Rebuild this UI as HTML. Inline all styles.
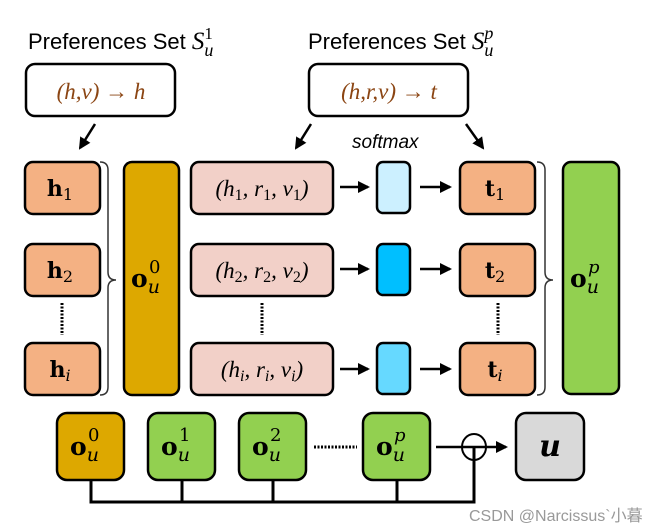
<!DOCTYPE html>
<html><head><meta charset="utf-8"><style>
html,body{margin:0;padding:0;background:#fff;}
svg{display:block;}
.m{font-family:"DejaVu Serif","Liberation Serif",serif;}
</style></head><body>
<svg width="653" height="531" viewBox="0 0 653 531" xmlns="http://www.w3.org/2000/svg">
<defs>
<marker id="b" markerWidth="12" markerHeight="12" refX="10" refY="6" orient="auto" markerUnits="userSpaceOnUse"><path d="M0,0 L12,6 L0,12 z" fill="#000"/></marker>
</defs>
<g font-family="Liberation Sans, sans-serif" font-size="22" fill="#000">
<text x="28" y="49">Preferences Set <tspan font-family="Liberation Serif,serif" font-style="italic" font-size="25">S</tspan><tspan font-family="Liberation Serif,serif" font-style="italic" font-size="18" dy="7">u</tspan><tspan font-family="Liberation Serif,serif" font-size="17" dx="-9" dy="-17">1</tspan></text>
<text x="308" y="49">Preferences Set <tspan font-family="Liberation Serif,serif" font-style="italic" font-size="25">S</tspan><tspan font-family="Liberation Serif,serif" font-style="italic" font-size="18" dy="7">u</tspan><tspan font-family="Liberation Serif,serif" font-style="italic" font-size="18" dx="-9" dy="-17">p</tspan></text>
</g>
<rect x="26" y="64" width="149" height="52" rx="9" fill="#fff" stroke="#000" stroke-width="2.5"/>
<text x="101" y="99" text-anchor="middle" font-family="Liberation Serif,serif" font-style="italic" font-size="23" fill="#8B4513">(h,v) → h</text>
<rect x="309" y="64" width="159" height="52" rx="9" fill="#fff" stroke="#000" stroke-width="2.5"/>
<text x="389" y="99" text-anchor="middle" font-family="Liberation Serif,serif" font-style="italic" font-size="23" fill="#8B4513">(h,r,v) → t</text>
<g stroke="#000" stroke-width="2.5">
<line x1="95" y1="124" x2="80" y2="148" marker-end="url(#b)"/>
<line x1="311" y1="124" x2="296" y2="148" marker-end="url(#b)"/>
<line x1="466" y1="124" x2="483" y2="148" marker-end="url(#b)"/>
</g>
<text x="352" y="148" font-family="Liberation Sans,sans-serif" font-style="italic" font-size="19">softmax</text>
<g stroke="#000" stroke-width="2.5" fill="#F4B183">
<rect x="25" y="162" width="75" height="52" rx="8"/>
<rect x="25" y="244" width="75" height="52" rx="8"/>
<rect x="25" y="343" width="75" height="52" rx="8"/>
<rect x="460" y="162" width="75" height="52" rx="8"/>
<rect x="460" y="244" width="75" height="52" rx="8"/>
<rect x="460" y="343" width="75" height="52" rx="8"/>
</g>
<g class="m" font-size="22" font-weight="bold" text-anchor="middle">
<text x="60" y="196">h<tspan font-size="16" font-weight="normal" dy="4">1</tspan></text>
<text x="60" y="278">h<tspan font-size="16" font-weight="normal" dy="4">2</tspan></text>
<text x="60" y="377">h<tspan font-size="16" font-weight="normal" font-style="italic" dy="4">i</tspan></text>
<text x="495" y="196">t<tspan font-size="16" font-weight="normal" dy="4">1</tspan></text>
<text x="495" y="278">t<tspan font-size="16" font-weight="normal" dy="4">2</tspan></text>
<text x="495" y="377">t<tspan font-size="16" font-weight="normal" font-style="italic" dy="4">i</tspan></text>
</g>
<g stroke="#000" stroke-width="3" stroke-dasharray="2,1.5">
<line x1="62" y1="303" x2="62" y2="335"/>
<line x1="262" y1="303" x2="262" y2="335"/>
<line x1="498" y1="303" x2="498" y2="335"/>
<line x1="314" y1="447" x2="357" y2="447"/>
</g>
<g fill="none" stroke="#333" stroke-width="1.5">
<path d="M100,162 Q108,162 108,170 L108,272 Q108,280 116,280 Q108,280 108,288 L108,387 Q108,395 100,395"/>
<path d="M537,162 Q545,162 545,170 L545,272 Q545,280 553,280 Q545,280 545,288 L545,387 Q545,395 537,395"/>
</g>
<rect x="124" y="162" width="55" height="233" rx="8" fill="#DDA800" stroke="#000" stroke-width="2.5"/>
<rect x="563" y="162" width="56" height="232" rx="8" fill="#92D050" stroke="#000" stroke-width="2.5"/>
<g class="m">
<text x="131" y="287" font-size="25" font-weight="bold">o<tspan font-size="19" font-weight="normal" font-style="italic" dy="6">u</tspan><tspan font-size="18" font-weight="normal" dx="-11" dy="-20">0</tspan></text>
<text x="570" y="287" font-size="25" font-weight="bold">o<tspan font-size="19" font-weight="normal" font-style="italic" dy="6">u</tspan><tspan font-size="18" font-weight="normal" font-style="italic" dx="-11" dy="-20">p</tspan></text>
</g>
<g stroke="#000" stroke-width="2.5" fill="#F2D0C8">
<rect x="191" y="162" width="142" height="52" rx="8"/>
<rect x="191" y="244" width="142" height="52" rx="8"/>
<rect x="191" y="343" width="142" height="52" rx="8"/>
</g>
<g font-family="Liberation Serif,serif" font-style="italic" font-size="23" text-anchor="middle">
<text x="262" y="196">(h<tspan font-size="16" font-style="normal" dy="4">1</tspan><tspan dy="-4">, r</tspan><tspan font-size="16" font-style="normal" dy="4">1</tspan><tspan dy="-4">, v</tspan><tspan font-size="16" font-style="normal" dy="4">1</tspan><tspan dy="-4">)</tspan></text>
<text x="262" y="278">(h<tspan font-size="16" font-style="normal" dy="4">2</tspan><tspan dy="-4">, r</tspan><tspan font-size="16" font-style="normal" dy="4">2</tspan><tspan dy="-4">, v</tspan><tspan font-size="16" font-style="normal" dy="4">2</tspan><tspan dy="-4">)</tspan></text>
<text x="262" y="377">(h<tspan font-size="16" dy="4">i</tspan><tspan dy="-4">, r</tspan><tspan font-size="16" dy="4">i</tspan><tspan dy="-4">, v</tspan><tspan font-size="16" dy="4">i</tspan><tspan dy="-4">)</tspan></text>
</g>
<g stroke="#000" stroke-width="2.5">
<rect x="377" y="162" width="33" height="51" rx="6" fill="#CCF0FF"/>
<rect x="377" y="244" width="33" height="51" rx="6" fill="#00BFFF"/>
<rect x="377" y="343" width="33" height="51" rx="6" fill="#66D9FF"/>
<line x1="340" y1="187" x2="368" y2="187" marker-end="url(#b)"/>
<line x1="340" y1="269" x2="368" y2="269" marker-end="url(#b)"/>
<line x1="340" y1="369" x2="368" y2="369" marker-end="url(#b)"/>
<line x1="420" y1="187" x2="450" y2="187" marker-end="url(#b)"/>
<line x1="420" y1="269" x2="450" y2="269" marker-end="url(#b)"/>
<line x1="420" y1="369" x2="450" y2="369" marker-end="url(#b)"/>
</g>
<g stroke="#000" stroke-width="3" fill="none">
<polyline points="91,480 91,502 474,502 474,447"/>
<line x1="182" y1="480" x2="182" y2="502"/>
<line x1="273" y1="480" x2="273" y2="502"/>
<line x1="397" y1="480" x2="397" y2="502"/>
<line x1="436" y1="447" x2="506" y2="447" stroke-width="2.5" marker-end="url(#b)"/>
</g>
<ellipse cx="474" cy="447" rx="12" ry="13" fill="none" stroke="#000" stroke-width="2"/>
<g stroke="#000" stroke-width="2.5">
<rect x="57" y="413" width="67" height="67" rx="10" fill="#DDA800"/>
<rect x="148" y="413" width="67" height="67" rx="10" fill="#92D050"/>
<rect x="239" y="413" width="67" height="67" rx="10" fill="#92D050"/>
<rect x="363" y="413" width="67" height="67" rx="10" fill="#92D050"/>
<rect x="516" y="413" width="68" height="67" rx="10" fill="#D9D9D9"/>
</g>
<g class="m" font-size="25" font-weight="bold">
<text x="70" y="455">o<tspan font-size="19" font-weight="normal" font-style="italic" dy="6">u</tspan><tspan font-size="18" font-weight="normal" dx="-11" dy="-20">0</tspan></text>
<text x="161" y="455">o<tspan font-size="19" font-weight="normal" font-style="italic" dy="6">u</tspan><tspan font-size="18" font-weight="normal" dx="-11" dy="-20">1</tspan></text>
<text x="252" y="455">o<tspan font-size="19" font-weight="normal" font-style="italic" dy="6">u</tspan><tspan font-size="18" font-weight="normal" dx="-11" dy="-20">2</tspan></text>
<text x="376" y="455">o<tspan font-size="19" font-weight="normal" font-style="italic" dy="6">u</tspan><tspan font-size="18" font-weight="normal" font-style="italic" dx="-11" dy="-20">p</tspan></text>
<text x="550" y="456" text-anchor="middle" font-style="italic" font-size="30">u</text>
</g>
<text x="469" y="521" font-family="Liberation Sans,'Noto Sans CJK SC',sans-serif" font-size="16" fill="#999">CSDN @Narcissus`小暮</text>
</svg>
</body></html>
